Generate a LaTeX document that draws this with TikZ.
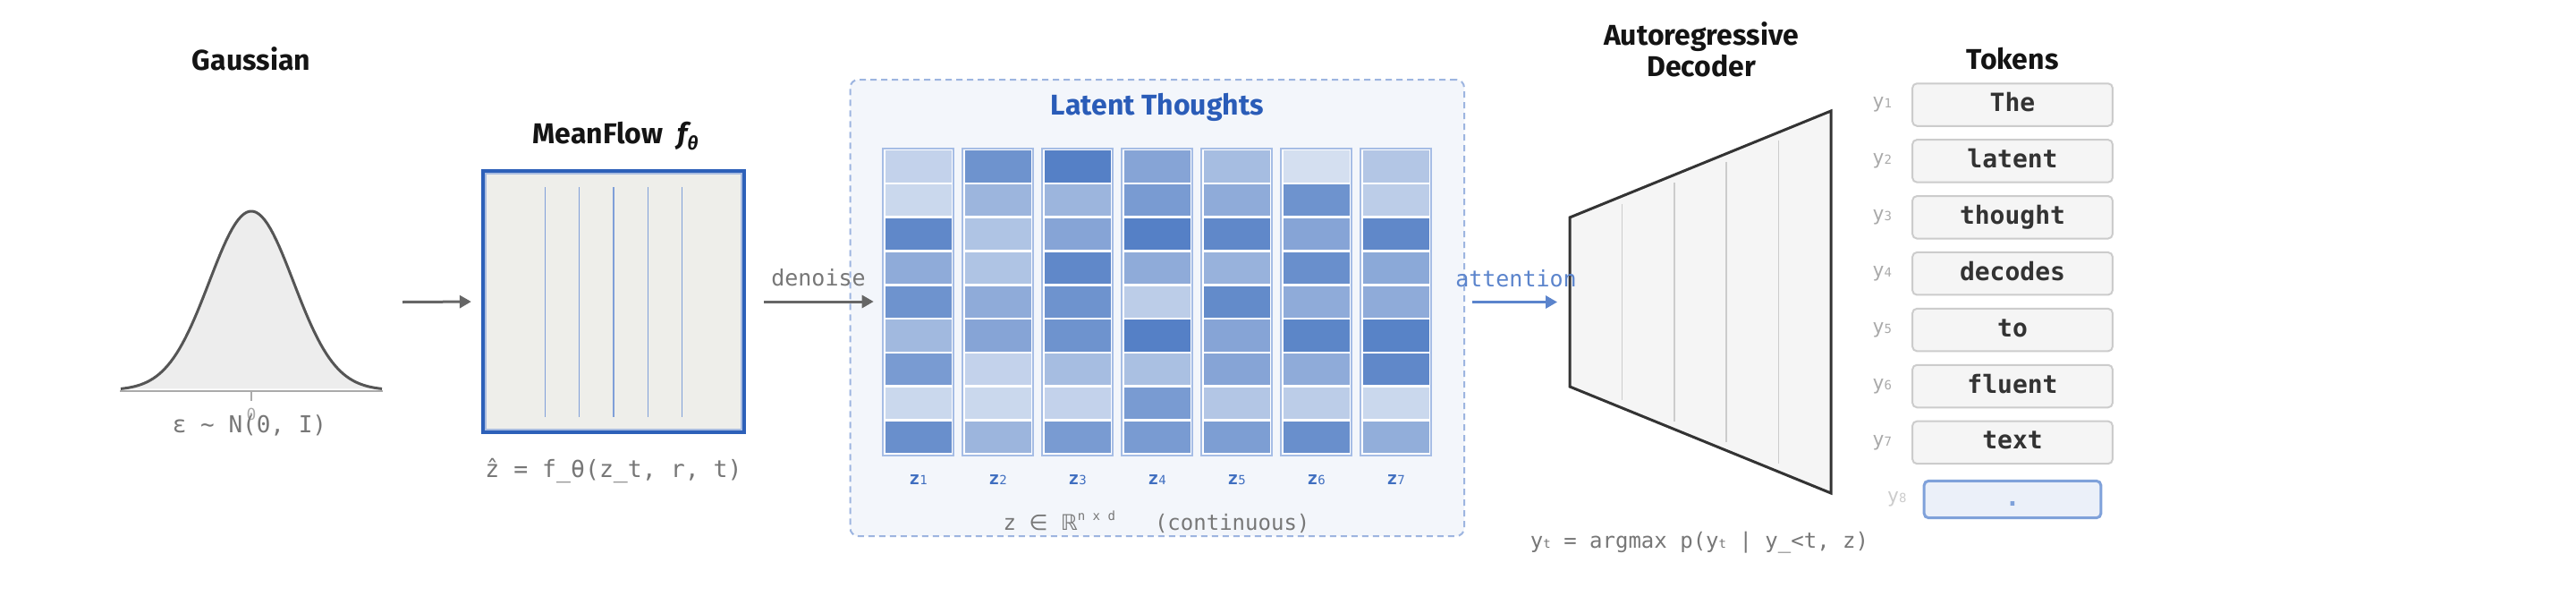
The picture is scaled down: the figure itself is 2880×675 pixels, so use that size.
\documentclass[tikz,border=0pt]{standalone}
\usepackage{fontspec}
\setmainfont{Fira Sans}
\setmonofont{DejaVu Sans Mono}
\newfontfamily\symfont{DejaVu Sans}
\usetikzlibrary{arrows.meta, positioning}

\definecolor{inkgray}{HTML}{555555}
\definecolor{axisgray}{HTML}{AAAAAA}
\definecolor{gaussfill}{HTML}{EDEDED}
\definecolor{arrowgray}{HTML}{666666}
\definecolor{notegray}{HTML}{777777}
\definecolor{mfblue}{HTML}{2D60B9}
\definecolor{mfinner}{HTML}{A9BCE0}
\definecolor{mffill}{HTML}{EEEEEA}
\definecolor{mfline}{HTML}{7F9FD8}
\definecolor{dashblue}{HTML}{9DB5E0}
\definecolor{latentfill}{HTML}{F3F6FB}
\definecolor{latentink}{HTML}{2A5CB8}
\definecolor{colborder}{HTML}{A6BDE5}
\definecolor{cellblue}{HTML}{4A78C2}
\definecolor{zink}{HTML}{3F6EC0}
\definecolor{attblue}{HTML}{5B84CC}
\definecolor{decink}{HTML}{333333}
\definecolor{decfill}{HTML}{F5F5F5}
\definecolor{decline}{HTML}{CCCCCC}
\definecolor{tokfill}{HTML}{F5F5F5}
\definecolor{tokborder}{HTML}{CCCCCC}
\definecolor{tokink}{HTML}{333333}
\definecolor{endfill}{HTML}{EBF0F9}
\definecolor{endborder}{HTML}{7FA1DA}

\newcommand{\smallsub}[1]{{\fontsize{14}{14}\selectfont #1}}
\tikzset{>={Triangle[length=13pt,width=14pt]}}
\tikzset{
  ttl/.style={font=\fontsize{32}{36}\selectfont\bfseries, text=black!92, anchor=base, inner sep=0pt},
  note/.style={font=\ttfamily\fontsize{25}{28}\selectfont, text=notegray, anchor=base, inner sep=0pt},
  flow/.style={->, draw=arrowgray, fill=arrowgray, line width=3pt},
  mfbox/.style={draw=mfblue, line width=4.3pt, fill=mffill, minimum width=292pt, minimum height=292pt, inner sep=0pt},
  latentbox/.style={draw=dashblue, dash pattern=on 7pt off 5pt, line width=2pt, rounded corners=9pt, fill=latentfill, minimum width=686.5pt, minimum height=510pt, inner sep=0pt},
  colbox/.style={draw=colborder, line width=2pt, fill=white, minimum width=79.6pt, minimum height=343pt, inner sep=0pt},
  zlab/.style={font=\ttfamily\fontsize{20}{22}\selectfont, text=zink, anchor=base, inner sep=0pt},
  tokbox/.style={draw=tokborder, line width=2pt, fill=tokfill, rounded corners=5pt, minimum width=223.7pt, minimum height=47.5pt, font=\ttfamily\bfseries\fontsize{28}{30}\selectfont, text=tokink, text height=22pt, text depth=7pt, inner sep=0pt},
  tokend/.style={tokbox, draw=endborder, line width=3pt, fill=endfill, minimum width=197.7pt, minimum height=41.3pt, text=endborder},
  ylab/.style={font=\ttfamily\fontsize{22}{24}\selectfont, text=axisgray, inner sep=0pt}
}

\begin{document}
\begin{tikzpicture}[x=1pt, y=-1pt]
    \useasboundingbox[fill=white] (0,0) rectangle (2880,675);

    % Gaussian
    \node[ttl] (gausstitle) at (281,78.5) {Gaussian};
    \fill[gaussfill] plot[domain=-146:146, samples=90] ({281+\x},{436-200*exp(-0.5*(\x/47)*(\x/47))}) -- cycle;
    \draw[inkgray, line width=3pt] plot[domain=-146:146, samples=90] ({281+\x},{436-200*exp(-0.5*(\x/47)*(\x/47))});
    \draw[axisgray, line width=2.5pt] (134,437) -- (428,437);
    \draw[axisgray, line width=2pt] (281,437) -- (281,448);
    \node[note, font=\ttfamily\fontsize{18}{18}\selectfont, text=axisgray] (zero) at (281,469) {0};
    \node[note, font=\ttfamily\fontsize{26}{28}\selectfont] (gausslab) at (279,483) {ε \textasciitilde{} N(0, I)};
    \coordinate (gaussout) at (450,337.5);

    % MeanFlow
    \node[ttl] (mftitle) at (688,160) {MeanFlow\hspace{16pt}{\itshape f}\raisebox{-7pt}{\fontsize{21}{21}\selectfont\itshape θ}};
    \node[mfbox] (mf) at (686,337) {};
    \draw[mfinner, line width=1.5pt] ([shift={(5pt,-5pt)}]mf.north west) rectangle ([shift={(-5pt,5pt)}]mf.south east);
    \foreach \k in {-2,...,2}
        \draw[mfline, line width=1.5pt] ({686+38.3*\k},209) -- ({686+38.3*\k},466);
    \node[note, font=\ttfamily\fontsize{26.5}{28}\selectfont] (mflab) at (686,533) {ẑ = f\_θ(z\_t, r, t)};

    % Latent thoughts
    \node[latentbox] (latent) at (1293.75,344) {};
    \node[ttl, text=latentink] (lattitle) at (1294,128) {Latent Thoughts};
    \foreach \c/\shades in {1/{33,29,88,62,80,52,74,29,83}, 2/{80,55,44,44,62,67,33,29,55},
                            3/{94,55,67,88,80,80,49,33,74}, 4/{67,74,94,62,37,94,47,74,74},
                            5/{49,62,88,57,86,67,67,42,72}, 6/{24,80,67,83,62,90,62,37,83},
                            7/{42,37,88,64,62,92,88,29,60}} {
        \node[colbox] (col\c) at ({1026.5+89*(\c-1)},337) {};
        \foreach \p [count=\r] in \shades
            \fill[cellblue!\p!white] ({1026.5+89*(\c-1)-37},{168.3+37.8*(\r-1)}) rectangle ++(74,35.3);
        \node[zlab] (z\c) at ({1026.5+89*(\c-1)},541.5) {\textbf{z}\smallsub{\c}};
    }
    \node[note, font=\ttfamily\fontsize{24}{26}\selectfont] (latlab) at (1293,592)
        {z {\symfont ∈} {\symfont ℝ}\raisebox{11pt}{\fontsize{14}{14}\selectfont n x d}\hspace{44pt}(continuous)};

    % Decoder
    \node[ttl] (dectitle1) at (1902,50) {Autoregressive};
    \node[ttl] (dectitle2) at (1902,85.7) {Decoder};
    \draw[decink, fill=decfill, line width=3pt, line join=miter] (1755,243) -- (2047,124) -- (2047,551) -- (1755,432) -- cycle;
    \foreach \k in {1,...,4}
        \draw[decline, line width=1.5pt] ({1755+58.4*\k},{243-119*\k/5+9}) -- ({1755+58.4*\k},{432+119*\k/5-9});
    \coordinate (decin) at (1755,337.5);
    \node[note, font=\ttfamily\fontsize{24}{26}\selectfont] (declab) at (1900,612)
        {y\smallsub{t} = argmax p(y\smallsub{t} | y\_<t, z)};

    % Tokens
    \node[ttl] (toktitle) at (2250,77) {Tokens};
    \foreach \w [count=\i] in {The,latent,thought,decodes,to,fluent,text} {
        \node[tokbox] (tok\i) at (2250,{117+62.9*(\i-1)}) {\w};
        \node[ylab, left=22pt of tok\i] (y\i) {y\smallsub{\i}};
    }
    \node[tokend] (tok8) at (2250,558) {.};
    \node[ylab, text=decline, left=18pt of tok8] (y8) {y\smallsub{8}};

    % arrows
    \draw[flow, shorten >=11pt] (gaussout) -- (mf.west);
    \draw[flow, shorten <=20pt, shorten >=9pt] (mf.east) -- (col1.west);
    \node[note] (denoiselab) at (915,319.6) {denoise};
    \draw[flow, draw=attblue, fill=attblue, shorten <=8pt, shorten >=14pt] (latent.east |- decin) -- (decin);
    \node[note, text=attblue] (attlab) at (1695,320) {attention};
\end{tikzpicture}
\end{document}
